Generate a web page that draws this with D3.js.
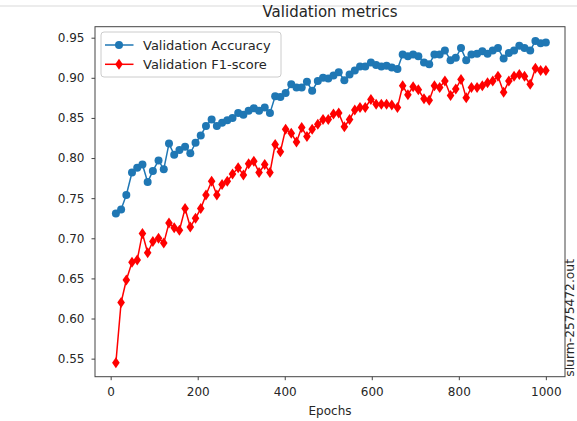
<!DOCTYPE html>
<html>
<head>
<meta charset="utf-8">
<script src="https://cdnjs.cloudflare.com/ajax/libs/d3/7.8.5/d3.min.js"></script>
<style>
  body { margin: 0; background: #fff; }
  text { font-family: "DejaVu Sans", sans-serif; fill: #262626; }
</style>
</head>
<body>
<svg width="577" height="421"></svg>
<script>
var epochs = [12, 24, 36, 49, 61, 73, 85, 97, 110, 122,
  134, 146, 158, 171, 183, 195, 207, 219, 232, 244,
  256, 268, 280, 293, 305, 317, 329, 341, 354, 366,
  378, 390, 402, 415, 427, 439, 451, 463, 476, 488,
  500, 512, 524, 537, 549, 561, 573, 585, 598, 610,
  622, 634, 646, 659, 671, 683, 695, 707, 720, 732,
  744, 756, 768, 781, 793, 805, 817, 829, 842, 854,
  866, 878, 890, 903, 915, 927, 939, 951, 964, 976,
  988, 1000];

var accuracy = [0.731, 0.736, 0.754, 0.782, 0.788, 0.792, 0.770, 0.784, 0.797, 0.786,
  0.818, 0.804, 0.810, 0.814, 0.806, 0.819, 0.828, 0.840, 0.848, 0.840,
  0.844, 0.847, 0.850, 0.856, 0.854, 0.859, 0.862, 0.859, 0.863, 0.856,
  0.877, 0.876, 0.881, 0.892, 0.888, 0.888, 0.895, 0.884, 0.896, 0.900,
  0.899, 0.903, 0.907, 0.897, 0.904, 0.909, 0.914, 0.914, 0.919, 0.916,
  0.914, 0.915, 0.913, 0.911, 0.929, 0.927, 0.929, 0.927, 0.919, 0.917,
  0.929, 0.929, 0.934, 0.922, 0.925, 0.937, 0.922, 0.929, 0.930, 0.933,
  0.930, 0.934, 0.937, 0.924, 0.931, 0.934, 0.940, 0.937, 0.934, 0.946,
  0.943, 0.944];

var f1score = [0.545, 0.620, 0.648, 0.670, 0.673, 0.706, 0.682, 0.696, 0.700, 0.694,
  0.719, 0.713, 0.710, 0.737, 0.714, 0.725, 0.737, 0.754, 0.771, 0.754,
  0.767, 0.771, 0.780, 0.788, 0.779, 0.793, 0.796, 0.782, 0.792, 0.782,
  0.817, 0.808, 0.836, 0.831, 0.820, 0.838, 0.827, 0.836, 0.842, 0.848,
  0.848, 0.855, 0.856, 0.839, 0.848, 0.860, 0.863, 0.863, 0.873, 0.867,
  0.867, 0.867, 0.866, 0.863, 0.890, 0.879, 0.889, 0.885, 0.874, 0.872,
  0.890, 0.888, 0.896, 0.878, 0.886, 0.898, 0.875, 0.888, 0.888, 0.890,
  0.894, 0.896, 0.902, 0.882, 0.896, 0.902, 0.904, 0.902, 0.892, 0.912,
  0.909, 0.909];

var xTicks = [0, 200, 400, 600, 800, 1000];
var yTicks = [0.55, 0.60, 0.65, 0.70, 0.75, 0.80, 0.85, 0.90, 0.95];
var seriesNames = ["Validation Accuracy", "Validation F1-score"];

var svg = d3.select("svg"),
    width = +svg.attr("width"),
    height = +svg.attr("height");

var plotLeft = 95, plotRight = 565, plotTop = 26.7, plotBottom = 376.7;

var x = d3.scaleLinear().domain([-36, 1044]).range([plotLeft, plotRight]);
var y = d3.scaleLinear().domain([0.5275, 0.9637]).range([plotBottom, plotTop]);

// notebook cell border at the very top
svg.append("line")
    .attr("x1", 0).attr("x2", width)
    .attr("y1", 6).attr("y2", 6)
    .attr("stroke", "#d9d9d9")
    .attr("stroke-width", 1);

svg.append("text")
    .attr("x", (plotLeft + plotRight) / 2)
    .attr("y", 17.3)
    .attr("text-anchor", "middle")
    .attr("font-size", 15)
    .text("Validation metrics");

// axes
var xAxis = svg.append("g")
    .attr("transform", "translate(0," + plotBottom + ")")
    .call(d3.axisBottom(x).tickValues(xTicks).tickSize(3.5).tickPadding(7).tickFormat(d3.format("d")));
var yAxis = svg.append("g")
    .attr("transform", "translate(" + plotLeft + ",0)")
    .call(d3.axisLeft(y).tickValues(yTicks).tickSize(3.5).tickPadding(7).tickFormat(d3.format(".2f")));

[xAxis, yAxis].forEach(function(a) {
  a.select(".domain").remove();
  a.selectAll("line").attr("stroke", "#444");
  a.selectAll("text")
      .attr("font-family", "DejaVu Sans, sans-serif")
      .attr("font-size", 12)
      .attr("fill", "#262626");
});

svg.append("rect")
    .attr("x", plotLeft).attr("y", plotTop)
    .attr("width", plotRight - plotLeft).attr("height", plotBottom - plotTop)
    .attr("fill", "none")
    .attr("stroke", "#444")
    .attr("stroke-width", 1);

svg.append("text")
    .attr("x", (plotLeft + plotRight) / 2)
    .attr("y", 414.5)
    .attr("text-anchor", "middle")
    .attr("font-size", 12)
    .text("Epochs");

svg.append("text")
    .attr("transform", "translate(573.5," + plotBottom + ") rotate(-90)")
    .attr("font-size", 12.3)
    .text("slurm-2575472.out");

var diamond = "M0,-5.5L3.8,0L0,5.5L-3.8,0Z";

var line = d3.line()
    .x(function(d) { return x(d[0]); })
    .y(function(d) { return y(d[1]); });

var series = [
  { values: accuracy, color: "#1f77b4", marker: "circle" },
  { values: f1score, color: "#ff0000", marker: "diamond" }
];

series.forEach(function(s) {
  var pts = epochs.map(function(e, i) { return [e, s.values[i]]; });
  var g = svg.append("g");
  g.append("path")
      .datum(pts)
      .attr("d", line)
      .attr("fill", "none")
      .attr("stroke", s.color)
      .attr("stroke-width", 1.5);
  if (s.marker == "circle") {
    g.selectAll("circle")
        .data(pts)
      .enter().append("circle")
        .attr("cx", function(d) { return x(d[0]); })
        .attr("cy", function(d) { return y(d[1]); })
        .attr("r", 4)
        .attr("fill", s.color);
  } else {
    g.selectAll("path.m")
        .data(pts)
      .enter().append("path")
        .attr("class", "m")
        .attr("d", diamond)
        .attr("transform", function(d) { return "translate(" + x(d[0]) + "," + y(d[1]) + ")"; })
        .attr("fill", s.color);
  }
});

// legend
var legend = svg.append("g");
legend.append("rect")
    .attr("x", 101).attr("y", 32)
    .attr("width", 180).attr("height", 45)
    .attr("rx", 3)
    .attr("fill", "#fff").attr("fill-opacity", 0.8)
    .attr("stroke", "#cccccc");

series.forEach(function(s, i) {
  var cy = 45 + i * 19.3;
  legend.append("line")
      .attr("x1", 105).attr("x2", 133.5)
      .attr("y1", cy).attr("y2", cy)
      .attr("stroke", s.color)
      .attr("stroke-width", 1.5);
  if (s.marker == "circle") {
    legend.append("circle")
        .attr("cx", 119).attr("cy", cy).attr("r", 4)
        .attr("fill", s.color);
  } else {
    legend.append("path")
        .attr("d", diamond)
        .attr("transform", "translate(119," + cy + ")")
        .attr("fill", s.color);
  }
  legend.append("text")
      .attr("x", 143)
      .attr("y", cy + 4.6)
      .attr("font-size", 13)
      .text(seriesNames[i]);
});
</script>
</body>
</html>
